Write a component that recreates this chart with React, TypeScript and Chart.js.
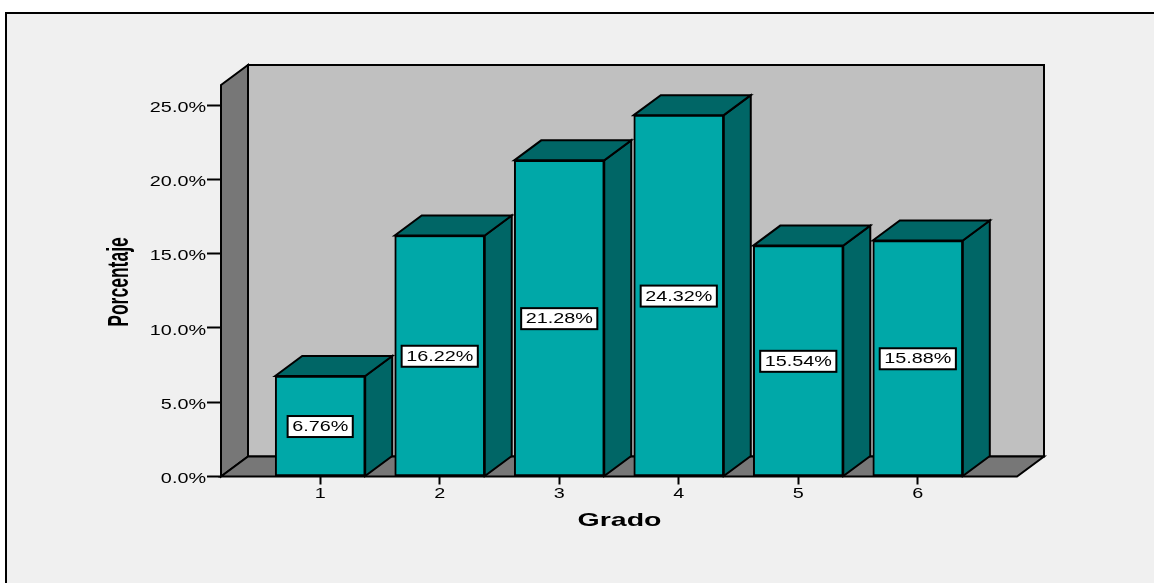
import React, { useEffect, useRef } from "react";
import { Chart, registerables } from "chart.js";

Chart.register(...registerables);

const categories = [1, 2, 3, 4, 5, 6];
const percentages = [6.76, 16.22, 21.28, 24.32, 15.54, 15.88];
const yTicks = [0, 5, 10, 15, 20, 25];
const xTitle = "Grado";
const yTitle = "Porcentaje";

const FONT = '"Liberation Sans", Arial, sans-serif';
const DEPTH_X = 27;
const DEPTH_Y = -20;
const PANEL = "#f0f0f0";
const WALL = "#c0c0c0";
const SHADE = "#777777";
const BAR_FRONT = "#00a8a8";
const BAR_DARK = "#006666";
const INK = "#000000";
const LABEL_STRETCH = 1.32;

type Ctx = CanvasRenderingContext2D;

function polygon(ctx: Ctx, pts: number[][], fill: string) {
  ctx.beginPath();
  pts.forEach(([x, y], i) => (i ? ctx.lineTo(x, y) : ctx.moveTo(x, y)));
  ctx.closePath();
  ctx.fillStyle = fill;
  ctx.fill();
  ctx.lineWidth = 2;
  ctx.strokeStyle = INK;
  ctx.lineJoin = "miter";
  ctx.stroke();
}

// The labels are set in a horizontally widened face, so they go through a scaled context.
function wideText(
  ctx: Ctx,
  text: string,
  x: number,
  y: number,
  font: string,
  stretch: number,
  align: CanvasTextAlign,
  rotated = false
) {
  ctx.save();
  ctx.translate(x, y);
  ctx.scale(stretch, 1);
  if (rotated) ctx.rotate(-Math.PI / 2);
  ctx.font = font;
  ctx.fillStyle = INK;
  ctx.textAlign = align;
  ctx.textBaseline = "middle";
  ctx.fillText(text, 0, 0);
  ctx.restore();
}

const panelPlugin = {
  id: "panel",
  beforeDraw(chart: any) {
    const ctx: Ctx = chart.ctx;
    ctx.save();
    ctx.fillStyle = "#ffffff";
    ctx.fillRect(0, 0, chart.width, chart.height);
    ctx.fillStyle = PANEL;
    ctx.fillRect(5, 12, chart.width, chart.height);
    ctx.fillStyle = INK;
    ctx.fillRect(5, 12, chart.width, 2);
    ctx.fillRect(5, 12, 2, chart.height);
    ctx.restore();
  },
};

const box3dPlugin = {
  id: "box3d",
  beforeDatasetsDraw(chart: any) {
    const ctx: Ctx = chart.ctx;
    const { left, right, top, bottom } = chart.chartArea;
    const dx = DEPTH_X;
    const dy = DEPTH_Y;
    ctx.save();
    // Back wall, left wall and floor of the box
    polygon(ctx, [[left + dx, top + dy], [right + dx, top + dy], [right + dx, bottom + dy], [left + dx, bottom + dy]], WALL);
    polygon(ctx, [[left, top], [left + dx, top + dy], [left + dx, bottom + dy], [left, bottom]], SHADE);
    polygon(ctx, [[left, bottom], [left + dx, bottom + dy], [right + dx, bottom + dy], [right, bottom]], SHADE);
    // Top and side faces of each column
    chart.getDatasetMeta(0).data.forEach((bar: any) => {
      const l = bar.x - bar.width / 2;
      const r = bar.x + bar.width / 2;
      polygon(ctx, [[r, bar.y], [r + dx, bar.y + dy], [r + dx, bar.base + dy], [r, bar.base]], BAR_DARK);
      polygon(ctx, [[l, bar.y], [l + dx, bar.y + dy], [r + dx, bar.y + dy], [r, bar.y]], BAR_DARK);
    });
    ctx.restore();
  },
  afterDatasetsDraw(chart: any) {
    const ctx: Ctx = chart.ctx;
    const x = chart.scales.x;
    const y = chart.scales.y;
    const tickFont = `15px ${FONT}`;
    ctx.save();
    // Value boxes centred on the columns
    chart.getDatasetMeta(0).data.forEach((bar: any, i: number) => {
      const text = `${percentages[i].toFixed(2)}%`;
      ctx.font = tickFont;
      const w = ctx.measureText(text).width * LABEL_STRETCH + 9;
      const h = 21;
      const cy = (bar.y + bar.base) / 2 + 0.5;
      ctx.fillStyle = "#ffffff";
      ctx.fillRect(bar.x - w / 2, cy - h / 2, w, h);
      ctx.lineWidth = 2;
      ctx.strokeStyle = INK;
      ctx.strokeRect(bar.x - w / 2, cy - h / 2, w, h);
      wideText(ctx, text, bar.x, cy + 0.5, tickFont, LABEL_STRETCH, "center");
    });
    // Axis tick labels
    y.ticks.forEach((t: any, i: number) => {
      wideText(ctx, String(t.label), 206, y.getPixelForTick(i) + 2.5, tickFont, LABEL_STRETCH, "right");
    });
    x.ticks.forEach((t: any, i: number) => {
      wideText(ctx, String(t.label), x.getPixelForTick(i), 493.5, tickFont, LABEL_STRETCH, "center");
    });
    // Axis titles
    wideText(ctx, xTitle, 619.5, 521, `bold 19px ${FONT}`, 1.5, "center");
    wideText(ctx, yTitle, 119.5, 282, `bold 17.5px ${FONT}`, 1.7, "center", true);
    ctx.restore();
  },
};

export default function App() {
  const ref = useRef<HTMLCanvasElement | null>(null);

  useEffect(() => {
    const chart = new Chart(ref.current as HTMLCanvasElement, {
      type: "bar",
      data: {
        datasets: [
          {
            label: yTitle,
            data: categories.map((c, i) => ({ x: c, y: percentages[i] })),
            backgroundColor: BAR_FRONT,
            borderColor: INK,
            borderWidth: 2,
            borderSkipped: false,
            barThickness: 90,
          },
        ],
      },
      options: {
        responsive: false,
        animation: false,
        layout: { padding: { left: 207, right: 137, top: 85, bottom: 98.5 } },
        plugins: { legend: { display: false }, tooltip: { enabled: false } },
        scales: {
          x: {
            type: "linear",
            min: 0.17,
            max: 6.83,
            offset: false,
            afterBuildTicks: (s: any) => {
              s.ticks = categories.map((value) => ({ value }));
            },
            border: { display: false },
            grid: { offset: false, drawOnChartArea: false, tickLength: 8, tickWidth: 2, tickColor: INK },
            ticks: { display: false, autoSkip: false, callback: (v: any) => String(v) },
          },
          y: {
            min: 0,
            max: 26.35,
            afterBuildTicks: (s: any) => {
              s.ticks = yTicks.map((value) => ({ value }));
            },
            border: { display: false },
            grid: { drawOnChartArea: false, tickLength: 14, tickWidth: 2, tickColor: INK },
            ticks: { display: false, autoSkip: false, callback: (v: any) => `${Number(v).toFixed(1)}%` },
          },
        },
      },
      plugins: [panelPlugin, box3dPlugin],
    } as any);
    return () => chart.destroy();
  }, []);

  return (
    <canvas
      ref={ref}
      width={1154}
      height={583}
      style={{ position: "fixed", left: 0, top: 0, display: "block" }}
    />
  );
}
